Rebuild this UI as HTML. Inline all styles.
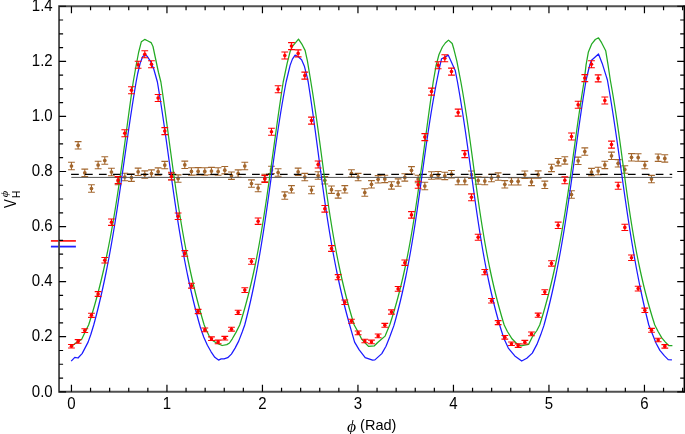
<!DOCTYPE html><html><head><meta charset="utf-8"><title>plot</title><style>html,body{margin:0;padding:0;background:#fff}svg{display:block}text{font-family:"Liberation Sans",Arial,sans-serif;fill:#000}.s{font-family:"Liberation Serif","Times New Roman",serif;font-style:italic}</style></head><body>
<svg width="685" height="434" viewBox="0 0 685 434">
<rect width="685" height="434" fill="#fff"/>
<path d="M68.05 162.30h6.8M68.05 169.70h6.8M71.45 162.30v7.40M74.72 141.60h6.8M74.72 149.00h6.8M78.12 141.60v7.40M81.38 169.10h6.8M81.38 176.50h6.8M84.78 169.10v7.40M88.05 184.80h6.8M88.05 192.20h6.8M91.45 184.80v7.40M94.72 161.30h6.8M94.72 168.70h6.8M98.12 161.30v7.40M101.39 156.80h6.8M101.39 164.20h6.8M104.79 156.80v7.40M108.05 168.30h6.8M108.05 175.70h6.8M111.45 168.30v7.40M114.72 177.30h6.8M114.72 184.70h6.8M118.12 177.30v7.40M121.39 173.30h6.8M121.39 180.70h6.8M124.79 173.30v7.40M128.05 174.00h6.8M128.05 181.40h6.8M131.45 174.00v7.40M134.72 168.10h6.8M134.72 175.50h6.8M138.12 168.10v7.40M141.39 170.90h6.8M141.39 178.30h6.8M144.79 170.90v7.40M148.06 169.90h6.8M148.06 177.30h6.8M151.46 169.90v7.40M154.72 167.90h6.8M154.72 175.30h6.8M158.12 167.90v7.40M161.39 161.40h6.8M161.39 168.80h6.8M164.79 161.40v7.40M168.06 172.30h6.8M168.06 179.70h6.8M171.46 172.30v7.40M174.72 174.90h6.8M174.72 182.30h6.8M178.12 174.90v7.40M181.39 161.10h6.8M181.39 168.50h6.8M184.79 161.10v7.40M188.06 167.70h6.8M188.06 175.10h6.8M191.46 167.70v7.40M194.73 167.60h6.8M194.73 175.00h6.8M198.13 167.60v7.40M201.39 167.70h6.8M201.39 175.10h6.8M204.79 167.70v7.40M208.06 167.40h6.8M208.06 174.80h6.8M211.46 167.40v7.40M214.73 167.80h6.8M214.73 175.20h6.8M218.13 167.80v7.40M221.39 166.50h6.8M221.39 173.90h6.8M224.79 166.50v7.40M228.06 172.00h6.8M228.06 179.40h6.8M231.46 172.00v7.40M234.73 169.90h6.8M234.73 177.30h6.8M238.13 169.90v7.40M241.40 162.30h6.8M241.40 169.70h6.8M244.80 162.30v7.40M248.06 179.90h6.8M248.06 187.30h6.8M251.46 179.90v7.40M254.73 184.30h6.8M254.73 191.70h6.8M258.13 184.30v7.40M261.40 174.30h6.8M261.40 181.70h6.8M264.80 174.30v7.40M268.06 166.20h6.8M268.06 173.60h6.8M271.46 166.20v7.40M274.73 168.80h6.8M274.73 176.20h6.8M278.13 168.80v7.40M281.40 191.90h6.8M281.40 199.30h6.8M284.80 191.90v7.40M288.07 185.60h6.8M288.07 193.00h6.8M291.47 185.60v7.40M294.73 168.10h6.8M294.73 175.50h6.8M298.13 168.10v7.40M301.40 173.40h6.8M301.40 180.80h6.8M304.80 173.40v7.40M308.07 186.30h6.8M308.07 193.70h6.8M311.47 186.30v7.40M314.73 171.80h6.8M314.73 179.20h6.8M318.13 171.80v7.40M321.40 176.60h6.8M321.40 184.00h6.8M324.80 176.60v7.40M328.07 186.00h6.8M328.07 193.40h6.8M331.47 186.00v7.40M334.74 190.70h6.8M334.74 198.10h6.8M338.14 190.70v7.40M341.40 185.60h6.8M341.40 193.00h6.8M344.80 185.60v7.40M348.07 169.70h6.8M348.07 177.10h6.8M351.47 169.70v7.40M354.74 173.40h6.8M354.74 180.80h6.8M358.14 173.40v7.40M361.40 188.80h6.8M361.40 196.20h6.8M364.80 188.80v7.40M368.07 180.60h6.8M368.07 188.00h6.8M371.47 180.60v7.40M374.74 175.60h6.8M374.74 183.00h6.8M378.14 175.60v7.40M381.41 175.20h6.8M381.41 182.60h6.8M384.81 175.20v7.40M388.07 181.70h6.8M388.07 189.10h6.8M391.47 181.70v7.40M394.74 178.90h6.8M394.74 186.30h6.8M398.14 178.90v7.40M401.41 173.70h6.8M401.41 181.10h6.8M404.81 173.70v7.40M408.08 166.60h6.8M408.08 174.00h6.8M411.48 166.60v7.40M414.74 175.30h6.8M414.74 182.70h6.8M418.14 175.30v7.40M421.41 182.30h6.8M421.41 189.70h6.8M424.81 182.30v7.40M428.08 171.80h6.8M428.08 179.20h6.8M431.48 171.80v7.40M434.74 171.50h6.8M434.74 178.90h6.8M438.14 171.50v7.40M441.41 172.20h6.8M441.41 179.60h6.8M444.81 172.20v7.40M448.08 170.50h6.8M448.08 177.90h6.8M451.48 170.50v7.40M454.75 177.30h6.8M454.75 184.70h6.8M458.15 177.30v7.40M461.41 177.30h6.8M461.41 184.70h6.8M464.81 177.30v7.40M468.08 171.00h6.8M468.08 178.40h6.8M471.48 171.00v7.40M474.75 176.80h6.8M474.75 184.20h6.8M478.15 176.80v7.40M481.41 177.40h6.8M481.41 184.80h6.8M484.81 177.40v7.40M488.08 174.40h6.8M488.08 181.80h6.8M491.48 174.40v7.40M494.75 172.90h6.8M494.75 180.30h6.8M498.15 172.90v7.40M501.42 180.60h6.8M501.42 188.00h6.8M504.82 180.60v7.40M508.08 177.60h6.8M508.08 185.00h6.8M511.48 177.60v7.40M514.75 177.60h6.8M514.75 185.00h6.8M518.15 177.60v7.40M521.42 171.00h6.8M521.42 178.40h6.8M524.82 171.00v7.40M528.08 178.20h6.8M528.08 185.60h6.8M531.48 178.20v7.40M534.75 170.90h6.8M534.75 178.30h6.8M538.15 170.90v7.40M541.42 181.10h6.8M541.42 188.50h6.8M544.82 181.10v7.40M548.09 164.20h6.8M548.09 171.60h6.8M551.49 164.20v7.40M554.75 158.50h6.8M554.75 165.90h6.8M558.15 158.50v7.40M561.42 156.70h6.8M561.42 164.10h6.8M564.82 156.70v7.40M568.09 190.80h6.8M568.09 198.20h6.8M571.49 190.80v7.40M574.75 157.10h6.8M574.75 164.50h6.8M578.15 157.10v7.40M581.42 147.90h6.8M581.42 155.30h6.8M584.82 147.90v7.40M588.09 168.40h6.8M588.09 175.80h6.8M591.49 168.40v7.40M594.76 167.30h6.8M594.76 174.70h6.8M598.16 167.30v7.40M601.42 161.20h6.8M601.42 168.60h6.8M604.82 161.20v7.40M608.09 152.10h6.8M608.09 159.50h6.8M611.49 152.10v7.40M614.76 159.60h6.8M614.76 167.00h6.8M618.16 159.60v7.40M621.42 165.80h6.8M621.42 173.20h6.8M624.82 165.80v7.40M628.09 153.60h6.8M628.09 161.00h6.8M631.49 153.60v7.40M634.76 153.80h6.8M634.76 161.20h6.8M638.16 153.80v7.40M641.43 161.40h6.8M641.43 168.80h6.8M644.83 161.40v7.40M648.09 175.40h6.8M648.09 182.80h6.8M651.49 175.40v7.40M654.76 154.00h6.8M654.76 161.40h6.8M658.16 154.00v7.40M661.43 154.70h6.8M661.43 162.10h6.8M664.83 154.70v7.40" stroke="#a3662c" stroke-width="1.1" fill="none"/>
<g fill="#a3662c"><circle cx="71.45" cy="166.00" r="1.85"/><circle cx="78.12" cy="145.30" r="1.85"/><circle cx="84.78" cy="172.80" r="1.85"/><circle cx="91.45" cy="188.50" r="1.85"/><circle cx="98.12" cy="165.00" r="1.85"/><circle cx="104.79" cy="160.50" r="1.85"/><circle cx="111.45" cy="172.00" r="1.85"/><circle cx="118.12" cy="181.00" r="1.85"/><circle cx="124.79" cy="177.00" r="1.85"/><circle cx="131.45" cy="177.70" r="1.85"/><circle cx="138.12" cy="171.80" r="1.85"/><circle cx="144.79" cy="174.60" r="1.85"/><circle cx="151.46" cy="173.60" r="1.85"/><circle cx="158.12" cy="171.60" r="1.85"/><circle cx="164.79" cy="165.10" r="1.85"/><circle cx="171.46" cy="176.00" r="1.85"/><circle cx="178.12" cy="178.60" r="1.85"/><circle cx="184.79" cy="164.80" r="1.85"/><circle cx="191.46" cy="171.40" r="1.85"/><circle cx="198.13" cy="171.30" r="1.85"/><circle cx="204.79" cy="171.40" r="1.85"/><circle cx="211.46" cy="171.10" r="1.85"/><circle cx="218.13" cy="171.50" r="1.85"/><circle cx="224.79" cy="170.20" r="1.85"/><circle cx="231.46" cy="175.70" r="1.85"/><circle cx="238.13" cy="173.60" r="1.85"/><circle cx="244.80" cy="166.00" r="1.85"/><circle cx="251.46" cy="183.60" r="1.85"/><circle cx="258.13" cy="188.00" r="1.85"/><circle cx="264.80" cy="178.00" r="1.85"/><circle cx="271.46" cy="169.90" r="1.85"/><circle cx="278.13" cy="172.50" r="1.85"/><circle cx="284.80" cy="195.60" r="1.85"/><circle cx="291.47" cy="189.30" r="1.85"/><circle cx="298.13" cy="171.80" r="1.85"/><circle cx="304.80" cy="177.10" r="1.85"/><circle cx="311.47" cy="190.00" r="1.85"/><circle cx="318.13" cy="175.50" r="1.85"/><circle cx="324.80" cy="180.30" r="1.85"/><circle cx="331.47" cy="189.70" r="1.85"/><circle cx="338.14" cy="194.40" r="1.85"/><circle cx="344.80" cy="189.30" r="1.85"/><circle cx="351.47" cy="173.40" r="1.85"/><circle cx="358.14" cy="177.10" r="1.85"/><circle cx="364.80" cy="192.50" r="1.85"/><circle cx="371.47" cy="184.30" r="1.85"/><circle cx="378.14" cy="179.30" r="1.85"/><circle cx="384.81" cy="178.90" r="1.85"/><circle cx="391.47" cy="185.40" r="1.85"/><circle cx="398.14" cy="182.60" r="1.85"/><circle cx="404.81" cy="177.40" r="1.85"/><circle cx="411.48" cy="170.30" r="1.85"/><circle cx="418.14" cy="179.00" r="1.85"/><circle cx="424.81" cy="186.00" r="1.85"/><circle cx="431.48" cy="175.50" r="1.85"/><circle cx="438.14" cy="175.20" r="1.85"/><circle cx="444.81" cy="175.90" r="1.85"/><circle cx="451.48" cy="174.20" r="1.85"/><circle cx="458.15" cy="181.00" r="1.85"/><circle cx="464.81" cy="181.00" r="1.85"/><circle cx="471.48" cy="174.70" r="1.85"/><circle cx="478.15" cy="180.50" r="1.85"/><circle cx="484.81" cy="181.10" r="1.85"/><circle cx="491.48" cy="178.10" r="1.85"/><circle cx="498.15" cy="176.60" r="1.85"/><circle cx="504.82" cy="184.30" r="1.85"/><circle cx="511.48" cy="181.30" r="1.85"/><circle cx="518.15" cy="181.30" r="1.85"/><circle cx="524.82" cy="174.70" r="1.85"/><circle cx="531.48" cy="181.90" r="1.85"/><circle cx="538.15" cy="174.60" r="1.85"/><circle cx="544.82" cy="184.80" r="1.85"/><circle cx="551.49" cy="167.90" r="1.85"/><circle cx="558.15" cy="162.20" r="1.85"/><circle cx="564.82" cy="160.40" r="1.85"/><circle cx="571.49" cy="194.50" r="1.85"/><circle cx="578.15" cy="160.80" r="1.85"/><circle cx="584.82" cy="151.60" r="1.85"/><circle cx="591.49" cy="172.10" r="1.85"/><circle cx="598.16" cy="171.00" r="1.85"/><circle cx="604.82" cy="164.90" r="1.85"/><circle cx="611.49" cy="155.80" r="1.85"/><circle cx="618.16" cy="163.30" r="1.85"/><circle cx="624.82" cy="169.50" r="1.85"/><circle cx="631.49" cy="157.30" r="1.85"/><circle cx="638.16" cy="157.50" r="1.85"/><circle cx="644.83" cy="165.10" r="1.85"/><circle cx="651.49" cy="179.10" r="1.85"/><circle cx="658.16" cy="157.70" r="1.85"/><circle cx="664.83" cy="158.40" r="1.85"/></g>
<line x1="71.3" y1="177.4" x2="672.2" y2="177.4" stroke="#555" stroke-width="1"/>
<line x1="71.1" y1="174.4" x2="672.2" y2="174.4" stroke="#000" stroke-width="1.2" stroke-dasharray="7.7 6.22"/>
<polyline points="71.20,361.20 74.80,357.30 78.00,358.00 82.10,353.60 88.10,342.10 90.90,334.20 93.70,325.00 94.79,321.00 95.84,317.00 96.86,313.00 97.87,309.00 98.85,305.00 99.81,301.00 100.75,297.00 101.66,293.00 102.56,289.00 103.43,285.00 104.29,281.00 105.13,277.00 105.95,273.00 106.76,269.00 107.54,265.00 108.31,261.00 109.07,257.00 109.81,253.00 110.54,249.00 111.25,245.00 111.95,241.00 112.64,237.00 113.31,233.00 113.98,229.00 114.63,225.00 115.28,221.00 115.91,217.00 116.54,213.00 117.16,209.00 117.77,205.00 118.37,201.00 118.97,197.00 119.56,193.00 120.15,189.00 120.73,185.00 121.31,181.00 121.88,177.00 122.45,173.00 123.02,169.00 123.59,165.00 124.16,161.00 124.73,157.00 125.30,153.00 125.87,149.00 126.44,145.00 127.01,141.00 127.59,137.00 128.17,133.00 128.75,129.00 129.34,125.00 129.93,121.00 130.53,117.00 131.14,113.00 131.75,109.00 132.37,105.00 133.00,101.00 133.64,97.00 134.28,93.00 134.94,89.00 135.61,85.00 136.10,82.00 137.70,73.50 140.20,63.10 142.60,56.80 145.00,54.60 147.40,56.60 150.60,61.50 153.90,69.50 157.40,82.00 157.90,85.00 158.56,89.00 159.22,93.00 159.86,97.00 160.49,101.00 161.11,105.00 161.72,109.00 162.33,113.00 162.92,117.00 163.51,121.00 164.10,125.00 164.67,129.00 165.24,133.00 165.81,137.00 166.37,141.00 166.93,145.00 167.49,149.00 168.04,153.00 168.59,157.00 169.15,161.00 169.70,165.00 170.25,169.00 170.81,173.00 171.37,177.00 171.93,181.00 172.49,185.00 173.06,189.00 173.63,193.00 174.21,197.00 174.79,201.00 175.39,205.00 175.99,209.00 176.59,213.00 177.21,217.00 177.84,221.00 178.47,225.00 179.12,229.00 179.78,233.00 180.45,237.00 181.13,241.00 181.83,245.00 182.54,249.00 183.27,253.00 184.01,257.00 184.77,261.00 185.55,265.00 186.34,269.00 187.15,273.00 187.99,277.00 188.84,281.00 189.71,285.00 190.60,289.00 191.52,293.00 192.45,297.00 193.41,301.00 194.40,305.00 195.41,309.00 196.44,313.00 197.50,317.00 198.58,321.00 199.70,325.00 200.50,327.80 203.70,337.00 207.40,345.30 211.10,351.80 214.80,357.30 218.50,360.10 221.20,358.90 224.00,358.90 227.70,357.70 231.40,354.10 235.10,348.10 238.70,341.10 242.40,331.50 244.70,325.00 245.74,321.00 246.75,317.00 247.74,313.00 248.70,309.00 249.64,305.00 250.55,301.00 251.44,297.00 252.31,293.00 253.16,289.00 253.99,285.00 254.79,281.00 255.58,277.00 256.35,273.00 257.11,269.00 257.84,265.00 258.56,261.00 259.26,257.00 259.95,253.00 260.63,249.00 261.29,245.00 261.94,241.00 262.58,237.00 263.21,233.00 263.83,229.00 264.43,225.00 265.03,221.00 265.62,217.00 266.21,213.00 266.78,209.00 267.36,205.00 267.92,201.00 268.49,197.00 269.04,193.00 269.60,189.00 270.16,185.00 270.71,181.00 271.26,177.00 271.81,173.00 272.37,169.00 272.92,165.00 273.48,161.00 274.04,157.00 274.61,153.00 275.18,149.00 275.75,145.00 276.33,141.00 276.92,137.00 277.52,133.00 278.12,129.00 278.73,125.00 279.36,121.00 279.99,117.00 280.63,113.00 281.29,109.00 281.96,105.00 282.65,101.00 283.34,97.00 284.06,93.00 284.78,89.00 285.53,85.00 286.10,82.00 290.10,65.40 292.40,59.10 295.10,55.10 298.20,56.80 301.60,59.70 304.50,66.60 307.40,78.10 308.20,82.00 308.66,85.00 309.28,89.00 309.89,93.00 310.49,97.00 311.08,101.00 311.66,105.00 312.24,109.00 312.80,113.00 313.36,117.00 313.92,121.00 314.46,125.00 315.01,129.00 315.55,133.00 316.08,137.00 316.62,141.00 317.15,145.00 317.68,149.00 318.21,153.00 318.74,157.00 319.27,161.00 319.80,165.00 320.34,169.00 320.87,173.00 321.41,177.00 321.96,181.00 322.50,185.00 323.06,189.00 323.62,193.00 324.18,197.00 324.76,201.00 325.34,205.00 325.93,209.00 326.53,213.00 327.13,217.00 327.75,221.00 328.38,225.00 329.03,229.00 329.68,233.00 330.35,237.00 331.03,241.00 331.73,245.00 332.44,249.00 333.16,253.00 333.91,257.00 334.67,261.00 335.44,265.00 336.24,269.00 337.06,273.00 337.89,277.00 338.75,281.00 339.62,285.00 340.52,289.00 341.44,293.00 342.39,297.00 343.35,301.00 344.35,305.00 345.36,309.00 346.40,313.00 347.47,317.00 348.57,321.00 349.69,325.00 350.50,327.80 354.60,342.10 359.20,349.90 365.20,357.70 372.60,360.20 374.90,359.90 381.80,353.60 386.00,346.20 389.70,337.00 393.80,325.90 395.18,321.00 396.27,317.00 397.34,313.00 398.37,309.00 399.38,305.00 400.36,301.00 401.31,297.00 402.24,293.00 403.14,289.00 404.02,285.00 404.87,281.00 405.71,277.00 406.52,273.00 407.31,269.00 408.08,265.00 408.84,261.00 409.57,257.00 410.29,253.00 410.99,249.00 411.68,245.00 412.35,241.00 413.01,237.00 413.65,233.00 414.29,229.00 414.91,225.00 415.52,221.00 416.12,217.00 416.71,213.00 417.30,209.00 417.87,205.00 418.44,201.00 419.01,197.00 419.57,193.00 420.13,189.00 420.68,185.00 421.23,181.00 421.78,177.00 422.34,173.00 422.89,169.00 423.44,165.00 423.99,161.00 424.55,157.00 425.11,153.00 425.67,149.00 426.24,145.00 426.82,141.00 427.41,137.00 428.00,133.00 428.60,129.00 429.21,125.00 429.83,121.00 430.46,117.00 431.10,113.00 431.76,109.00 432.43,105.00 433.12,101.00 433.82,97.00 434.53,93.00 435.27,89.00 436.02,85.00 436.60,82.00 439.50,67.70 441.60,58.70 444.10,57.60 448.20,55.10 451.60,62.40 455.20,70.40 457.50,82.00 458.02,85.00 458.72,89.00 459.40,93.00 460.07,97.00 460.73,101.00 461.38,105.00 462.01,109.00 462.64,113.00 463.26,117.00 463.86,121.00 464.46,125.00 465.06,129.00 465.64,133.00 466.22,137.00 466.79,141.00 467.36,145.00 467.92,149.00 468.48,153.00 469.04,157.00 469.60,161.00 470.15,165.00 470.70,169.00 471.25,173.00 471.80,177.00 472.36,181.00 472.91,185.00 473.47,189.00 474.02,193.00 474.59,197.00 475.15,201.00 475.72,205.00 476.30,209.00 476.88,213.00 477.47,217.00 478.07,221.00 478.68,225.00 479.30,229.00 479.93,233.00 480.57,237.00 481.22,241.00 481.89,245.00 482.57,249.00 483.27,253.00 483.99,257.00 484.72,261.00 485.47,265.00 486.24,269.00 487.04,273.00 487.85,277.00 488.69,281.00 489.55,285.00 490.43,289.00 491.34,293.00 492.28,297.00 493.25,301.00 494.24,305.00 495.26,309.00 496.32,313.00 497.40,317.00 498.52,321.00 499.67,325.00 500.50,327.80 503.70,337.90 508.30,348.10 514.80,355.90 521.70,361.00 526.80,358.20 532.30,353.10 536.90,344.40 540.60,335.10 543.80,325.90 544.60,323.00 545.67,319.00 546.71,315.00 547.74,311.00 548.73,307.00 549.71,303.00 550.66,299.00 551.59,295.00 552.50,291.00 553.38,287.00 554.25,283.00 555.09,279.00 555.92,275.00 556.73,271.00 557.52,267.00 558.30,263.00 559.05,259.00 559.79,255.00 560.52,251.00 561.23,247.00 561.93,243.00 562.61,239.00 563.29,235.00 563.95,231.00 564.59,227.00 565.23,223.00 565.86,219.00 566.48,215.00 567.08,211.00 567.68,207.00 568.28,203.00 568.86,199.00 569.44,195.00 570.01,191.00 570.58,187.00 571.14,183.00 571.70,179.00 572.26,175.00 572.81,171.00 573.37,167.00 573.92,163.00 574.47,159.00 575.02,155.00 575.57,151.00 576.12,147.00 576.67,143.00 577.22,139.00 577.78,135.00 578.34,131.00 578.91,127.00 579.48,123.00 580.06,119.00 580.64,115.00 581.23,111.00 581.83,107.00 582.43,103.00 583.05,99.00 583.67,95.00 584.31,91.00 584.95,87.00 585.61,83.00 586.10,80.00 589.00,68.00 591.30,60.50 598.50,54.00 602.20,63.40 606.20,76.10 607.40,80.00 607.93,83.00 608.62,87.00 609.31,91.00 609.98,95.00 610.64,99.00 611.29,103.00 611.93,107.00 612.56,111.00 613.18,115.00 613.79,119.00 614.39,123.00 614.99,127.00 615.58,131.00 616.17,135.00 616.75,139.00 617.32,143.00 617.89,147.00 618.46,151.00 619.03,155.00 619.59,159.00 620.15,163.00 620.71,167.00 621.27,171.00 621.83,175.00 622.39,179.00 622.95,183.00 623.52,187.00 624.09,191.00 624.66,195.00 625.23,199.00 625.81,203.00 626.39,207.00 626.98,211.00 627.58,215.00 628.18,219.00 628.79,223.00 629.41,227.00 630.04,231.00 630.68,235.00 631.32,239.00 631.98,243.00 632.65,247.00 633.33,251.00 634.02,255.00 634.73,259.00 635.45,263.00 636.18,267.00 636.93,271.00 637.70,275.00 638.48,279.00 639.27,283.00 640.09,287.00 640.92,291.00 641.77,295.00 642.64,299.00 643.53,303.00 644.44,307.00 645.37,311.00 646.32,315.00 647.30,319.00 648.29,323.00 648.80,325.00 652.50,334.20 656.20,343.50 659.90,350.40 664.50,355.90 668.20,359.60 671.90,359.90" fill="none" stroke="#1a1aff" stroke-width="1.25" stroke-linejoin="round"/>
<polyline points="71.20,346.40 75.20,343.50 78.00,341.60 81.70,339.30 84.90,332.40 88.60,325.00 89.89,321.00 91.13,317.00 92.34,313.00 93.52,309.00 94.67,305.00 95.79,301.00 96.89,297.00 97.95,293.00 98.99,289.00 100.00,285.00 100.99,281.00 101.95,277.00 102.89,273.00 103.81,269.00 104.70,265.00 105.57,261.00 106.42,257.00 107.25,253.00 108.06,249.00 108.85,245.00 109.62,241.00 110.38,237.00 111.12,233.00 111.84,229.00 112.55,225.00 113.24,221.00 113.92,217.00 114.59,213.00 115.24,209.00 115.88,205.00 116.52,201.00 117.14,197.00 117.75,193.00 118.35,189.00 118.95,185.00 119.53,181.00 120.11,177.00 120.68,173.00 121.25,169.00 121.81,165.00 122.37,161.00 122.92,157.00 123.47,153.00 124.01,149.00 124.55,145.00 125.09,141.00 125.63,137.00 126.17,133.00 126.71,129.00 127.25,125.00 127.78,121.00 128.33,117.00 128.87,113.00 129.41,109.00 129.96,105.00 130.52,101.00 131.07,97.00 131.64,93.00 132.21,89.00 132.78,85.00 133.20,82.00 136.40,64.00 138.60,52.50 141.30,41.80 144.70,39.40 148.00,41.00 151.10,42.60 153.00,46.50 155.30,57.50 158.50,72.50 160.90,82.00 161.35,85.00 161.95,89.00 162.54,93.00 163.12,97.00 163.69,101.00 164.26,105.00 164.82,109.00 165.37,113.00 165.93,117.00 166.47,121.00 167.02,125.00 167.56,129.00 168.10,133.00 168.64,137.00 169.18,141.00 169.72,145.00 170.26,149.00 170.80,153.00 171.35,157.00 171.89,161.00 172.44,165.00 173.00,169.00 173.55,173.00 174.12,177.00 174.68,181.00 175.26,185.00 175.84,189.00 176.43,193.00 177.03,197.00 177.63,201.00 178.25,205.00 178.87,209.00 179.51,213.00 180.16,217.00 180.82,221.00 181.49,225.00 182.17,229.00 182.87,233.00 183.59,237.00 184.31,241.00 185.06,245.00 185.82,249.00 186.60,253.00 187.39,257.00 188.21,261.00 189.04,265.00 189.89,269.00 190.76,273.00 191.65,277.00 192.57,281.00 193.50,285.00 194.46,289.00 195.44,293.00 196.45,297.00 197.48,301.00 198.53,305.00 199.61,309.00 200.72,313.00 201.85,317.00 203.01,321.00 204.20,325.00 206.50,330.50 209.20,336.10 212.90,340.70 217.50,343.50 222.10,345.50 226.80,344.60 229.50,343.00 232.30,338.80 236.00,332.40 239.70,325.00 240.97,321.00 242.19,317.00 243.37,313.00 244.52,309.00 245.64,305.00 246.72,301.00 247.77,297.00 248.80,293.00 249.79,289.00 250.75,285.00 251.69,281.00 252.60,277.00 253.49,273.00 254.35,269.00 255.18,265.00 256.00,261.00 256.79,257.00 257.56,253.00 258.32,249.00 259.05,245.00 259.77,241.00 260.47,237.00 261.16,233.00 261.83,229.00 262.49,225.00 263.13,221.00 263.77,217.00 264.39,213.00 265.00,209.00 265.61,205.00 266.21,201.00 266.80,197.00 267.38,193.00 267.96,189.00 268.54,185.00 269.11,181.00 269.67,177.00 270.23,173.00 270.79,169.00 271.35,165.00 271.90,161.00 272.45,157.00 273.00,153.00 273.55,149.00 274.11,145.00 274.66,141.00 275.21,137.00 275.76,133.00 276.32,129.00 276.88,125.00 277.44,121.00 278.01,117.00 278.58,113.00 279.16,109.00 279.74,105.00 280.33,101.00 280.92,97.00 281.52,93.00 282.13,89.00 282.75,85.00 283.20,82.00 287.20,63.10 290.10,51.60 292.40,46.40 295.40,42.80 298.50,39.10 302.20,44.70 305.10,50.40 307.40,60.80 310.90,82.00 311.38,85.00 312.03,89.00 312.67,93.00 313.29,97.00 313.91,101.00 314.51,105.00 315.10,109.00 315.68,113.00 316.26,117.00 316.83,121.00 317.39,125.00 317.94,129.00 318.49,133.00 319.04,137.00 319.58,141.00 320.12,145.00 320.65,149.00 321.19,153.00 321.72,157.00 322.26,161.00 322.79,165.00 323.33,169.00 323.87,173.00 324.42,177.00 324.96,181.00 325.52,185.00 326.08,189.00 326.64,193.00 327.22,197.00 327.80,201.00 328.39,205.00 328.99,209.00 329.60,213.00 330.22,217.00 330.86,221.00 331.50,225.00 332.16,229.00 332.84,233.00 333.53,237.00 334.24,241.00 334.96,245.00 335.70,249.00 336.46,253.00 337.24,257.00 338.04,261.00 338.86,265.00 339.70,269.00 340.57,273.00 341.45,277.00 342.36,281.00 343.30,285.00 344.26,289.00 345.25,293.00 346.26,297.00 347.30,301.00 348.37,305.00 349.47,309.00 350.61,313.00 351.77,317.00 352.96,321.00 354.20,325.00 358.30,332.40 361.50,338.80 365.00,342.80 368.50,346.40 374.40,345.80 377.70,342.50 381.40,339.30 385.10,336.10 387.80,329.60 389.70,325.00 391.01,321.00 392.28,317.00 393.50,313.00 394.69,309.00 395.84,305.00 396.96,301.00 398.04,297.00 399.09,293.00 400.11,289.00 401.10,285.00 402.06,281.00 402.99,277.00 403.89,273.00 404.77,269.00 405.62,265.00 406.45,261.00 407.26,257.00 408.04,253.00 408.81,249.00 409.55,245.00 410.27,241.00 410.98,237.00 411.67,233.00 412.35,229.00 413.01,225.00 413.66,221.00 414.29,217.00 414.92,213.00 415.53,209.00 416.14,205.00 416.74,201.00 417.33,197.00 417.91,193.00 418.49,189.00 419.06,185.00 419.63,181.00 420.19,177.00 420.75,173.00 421.30,169.00 421.85,165.00 422.39,161.00 422.94,157.00 423.48,153.00 424.02,149.00 424.55,145.00 425.09,141.00 425.63,137.00 426.16,133.00 426.70,129.00 427.24,125.00 427.78,121.00 428.32,117.00 428.87,113.00 429.41,109.00 429.96,105.00 430.52,101.00 431.08,97.00 431.64,93.00 432.21,89.00 432.78,85.00 433.20,82.00 436.10,65.40 439.00,54.50 442.40,47.00 445.30,43.00 448.50,40.10 452.20,43.50 453.90,49.30 456.80,60.80 460.90,82.00 461.43,85.00 462.14,89.00 462.83,93.00 463.50,97.00 464.16,101.00 464.80,105.00 465.43,109.00 466.05,113.00 466.66,117.00 467.26,121.00 467.85,125.00 468.42,129.00 468.99,133.00 469.56,137.00 470.12,141.00 470.67,145.00 471.22,149.00 471.76,153.00 472.30,157.00 472.84,161.00 473.38,165.00 473.92,169.00 474.46,173.00 475.00,177.00 475.55,181.00 476.09,185.00 476.64,189.00 477.20,193.00 477.76,197.00 478.33,201.00 478.91,205.00 479.50,209.00 480.09,213.00 480.70,217.00 481.32,221.00 481.95,225.00 482.59,229.00 483.25,233.00 483.92,237.00 484.61,241.00 485.31,245.00 486.03,249.00 486.77,253.00 487.53,257.00 488.31,261.00 489.11,265.00 489.93,269.00 490.77,273.00 491.64,277.00 492.53,281.00 493.45,285.00 494.39,289.00 495.36,293.00 496.36,297.00 497.39,301.00 498.44,305.00 499.53,309.00 500.65,313.00 501.80,317.00 502.98,321.00 504.20,325.00 507.40,331.50 512.00,338.80 516.60,343.50 520.80,345.80 524.70,345.10 528.60,344.40 532.30,337.00 536.90,330.50 539.70,325.00 540.34,323.00 541.57,319.00 542.77,315.00 543.94,311.00 545.08,307.00 546.18,303.00 547.26,299.00 548.32,295.00 549.34,291.00 550.34,287.00 551.31,283.00 552.26,279.00 553.18,275.00 554.08,271.00 554.95,267.00 555.81,263.00 556.64,259.00 557.45,255.00 558.25,251.00 559.02,247.00 559.78,243.00 560.51,239.00 561.23,235.00 561.94,231.00 562.63,227.00 563.31,223.00 563.97,219.00 564.62,215.00 565.26,211.00 565.88,207.00 566.50,203.00 567.10,199.00 567.70,195.00 568.29,191.00 568.87,187.00 569.44,183.00 570.01,179.00 570.57,175.00 571.13,171.00 571.68,167.00 572.24,163.00 572.78,159.00 573.33,155.00 573.88,151.00 574.43,147.00 574.97,143.00 575.52,139.00 576.08,135.00 576.63,131.00 577.19,127.00 577.75,123.00 578.32,119.00 578.90,115.00 579.48,111.00 580.07,107.00 580.67,103.00 581.27,99.00 581.89,95.00 582.52,91.00 583.16,87.00 583.81,83.00 584.30,80.00 586.10,64.60 588.40,51.90 591.80,43.80 595.30,39.50 598.50,37.80 601.60,42.70 605.70,50.70 608.00,64.60 610.30,80.00 610.84,83.00 611.55,87.00 612.25,91.00 612.93,95.00 613.60,99.00 614.25,103.00 614.88,107.00 615.50,111.00 616.11,115.00 616.71,119.00 617.30,123.00 617.88,127.00 618.45,131.00 619.02,135.00 619.57,139.00 620.12,143.00 620.67,147.00 621.21,151.00 621.75,155.00 622.29,159.00 622.82,163.00 623.36,167.00 623.90,171.00 624.44,175.00 624.98,179.00 625.52,183.00 626.07,187.00 626.63,191.00 627.19,195.00 627.76,199.00 628.34,203.00 628.92,207.00 629.52,211.00 630.13,215.00 630.75,219.00 631.38,223.00 632.03,227.00 632.69,231.00 633.37,235.00 634.06,239.00 634.77,243.00 635.50,247.00 636.25,251.00 637.02,255.00 637.82,259.00 638.63,263.00 639.47,267.00 640.33,271.00 641.22,275.00 642.13,279.00 643.07,283.00 644.03,287.00 645.03,291.00 646.06,295.00 647.11,299.00 648.20,303.00 649.32,307.00 650.48,311.00 651.66,315.00 652.89,319.00 654.15,323.00 654.80,325.00 658.10,331.50 661.80,337.90 665.40,342.10 668.70,345.50 672.40,345.50" fill="none" stroke="#22aa22" stroke-width="1.25" stroke-linejoin="round"/>
<path d="M68.05 344.47h6.8M68.05 347.93h6.8M71.45 344.47v3.46M74.72 339.61h6.8M74.72 343.19h6.8M78.12 339.61v3.57M81.38 328.69h6.8M81.38 332.51h6.8M84.78 328.69v3.82M88.05 313.21h6.8M88.05 317.39h6.8M91.45 313.21v4.18M94.72 291.66h6.8M94.72 296.34h6.8M98.12 291.66v4.67M101.39 257.57h6.8M101.39 263.03h6.8M104.79 257.57v5.46M108.05 219.03h6.8M108.05 225.37h6.8M111.45 219.03v6.34M114.72 176.60h6.8M114.72 183.60h6.8M118.12 176.60v7.00M121.39 129.80h6.8M121.39 136.80h6.8M124.79 129.80v7.00M128.05 86.70h6.8M128.05 93.70h6.8M131.45 86.70v7.00M134.72 61.20h6.8M134.72 68.20h6.8M138.12 61.20v7.00M141.39 50.80h6.8M141.39 57.80h6.8M144.79 50.80v7.00M148.06 60.70h6.8M148.06 67.70h6.8M151.46 60.70v7.00M154.72 94.50h6.8M154.72 101.50h6.8M158.12 94.50v7.00M161.39 127.60h6.8M161.39 134.60h6.8M164.79 127.60v7.00M168.06 173.00h6.8M168.06 180.00h6.8M171.46 173.00v7.00M174.72 212.96h6.8M174.72 219.44h6.8M178.12 212.96v6.48M181.39 250.59h6.8M181.39 256.21h6.8M184.79 250.59v5.62M188.06 283.27h6.8M188.06 288.13h6.8M191.46 283.27v4.87M194.73 309.37h6.8M194.73 313.63h6.8M198.13 309.37v4.27M201.39 327.98h6.8M201.39 331.82h6.8M204.79 327.98v3.84M208.06 336.88h6.8M208.06 340.52h6.8M211.46 336.88v3.63M214.73 340.12h6.8M214.73 343.68h6.8M218.13 340.12v3.56M221.39 336.38h6.8M221.39 340.02h6.8M224.79 336.38v3.65M228.06 327.27h6.8M228.06 331.13h6.8M231.46 327.27v3.85M234.73 310.28h6.8M234.73 314.52h6.8M238.13 310.28v4.25M241.40 287.72h6.8M241.40 292.48h6.8M244.80 287.72v4.76M248.06 258.79h6.8M248.06 264.21h6.8M251.46 258.79v5.43M254.73 218.02h6.8M254.73 224.38h6.8M258.13 218.02v6.36M261.40 175.40h6.8M261.40 182.40h6.8M264.80 175.40v7.00M268.06 128.30h6.8M268.06 135.30h6.8M271.46 128.30v7.00M274.73 85.80h6.8M274.73 92.80h6.8M278.13 85.80v7.00M281.40 52.00h6.8M281.40 59.00h6.8M284.80 52.00v7.00M288.07 42.60h6.8M288.07 49.60h6.8M291.47 42.60v7.00M294.73 49.90h6.8M294.73 56.90h6.8M298.13 49.90v7.00M301.40 72.10h6.8M301.40 79.10h6.8M304.80 72.10v7.00M308.07 117.10h6.8M308.07 124.10h6.8M311.47 117.10v7.00M314.73 161.00h6.8M314.73 168.00h6.8M318.13 161.00v7.00M321.40 205.47h6.8M321.40 212.13h6.8M324.80 205.47v6.65M328.07 245.63h6.8M328.07 251.37h6.8M331.47 245.63v5.73M334.74 274.67h6.8M334.74 279.73h6.8M338.14 274.67v5.06M341.40 300.06h6.8M341.40 304.54h6.8M344.80 300.06v4.48M348.07 319.18h6.8M348.07 323.22h6.8M351.47 319.18v4.04M354.74 331.02h6.8M354.74 334.78h6.8M358.14 331.02v3.77M361.40 339.21h6.8M361.40 342.79h6.8M364.80 339.21v3.58M368.07 340.12h6.8M368.07 343.68h6.8M371.47 340.12v3.56M374.74 334.05h6.8M374.74 337.75h6.8M378.14 334.05v3.70M381.41 323.33h6.8M381.41 327.27h6.8M384.81 323.33v3.95M388.07 309.87h6.8M388.07 314.13h6.8M391.47 309.87v4.25M394.74 286.50h6.8M394.74 291.30h6.8M398.14 286.50v4.79M401.41 260.00h6.8M401.41 265.40h6.8M404.81 260.00v5.40M408.08 211.64h6.8M408.08 218.16h6.8M411.48 211.64v6.51M414.74 181.20h6.8M414.74 188.20h6.8M418.14 181.20v7.00M421.41 133.60h6.8M421.41 140.60h6.8M424.81 133.60v7.00M428.08 88.10h6.8M428.08 95.10h6.8M431.48 88.10v7.00M434.74 61.70h6.8M434.74 68.70h6.8M438.14 61.70v7.00M441.41 54.70h6.8M441.41 61.70h6.8M444.81 54.70v7.00M448.08 68.10h6.8M448.08 75.10h6.8M451.48 68.10v7.00M454.75 109.10h6.8M454.75 116.10h6.8M458.15 109.10v7.00M461.41 150.60h6.8M461.41 157.60h6.8M464.81 150.60v7.00M468.08 193.84h6.8M468.08 200.76h6.8M471.48 193.84v6.92M474.75 234.20h6.8M474.75 240.20h6.8M478.15 234.20v5.99M481.41 269.51h6.8M481.41 274.69h6.8M484.81 269.51v5.18M488.08 298.44h6.8M488.08 302.96h6.8M491.48 298.44v4.52M494.75 320.60h6.8M494.75 324.60h6.8M498.15 320.60v4.01M501.42 335.47h6.8M501.42 339.13h6.8M504.82 335.47v3.67M508.08 342.04h6.8M508.08 345.56h6.8M511.48 342.04v3.52M514.75 343.86h6.8M514.75 347.34h6.8M518.15 343.86v3.47M521.42 340.42h6.8M521.42 343.98h6.8M524.82 340.42v3.55M528.08 332.03h6.8M528.08 335.77h6.8M531.48 332.03v3.75M534.75 313.11h6.8M534.75 317.29h6.8M538.15 313.11v4.18M541.42 289.74h6.8M541.42 294.46h6.8M544.82 289.74v4.72M548.09 260.71h6.8M548.09 266.09h6.8M551.49 260.71v5.38M554.75 222.17h6.8M554.75 228.43h6.8M558.15 222.17v6.27M561.42 176.70h6.8M561.42 183.70h6.8M564.82 176.70v7.00M568.09 133.00h6.8M568.09 140.00h6.8M571.49 133.00v7.00M574.75 101.20h6.8M574.75 108.20h6.8M578.15 101.20v7.00M581.42 74.60h6.8M581.42 81.60h6.8M584.82 74.60v7.00M588.09 60.70h6.8M588.09 67.70h6.8M591.49 60.70v7.00M594.76 74.90h6.8M594.76 81.90h6.8M598.16 74.90v7.00M601.42 97.00h6.8M601.42 104.00h6.8M604.82 97.00v7.00M608.09 141.10h6.8M608.09 148.10h6.8M611.49 141.10v7.00M614.76 182.30h6.8M614.76 189.30h6.8M618.16 182.30v7.00M621.42 224.29h6.8M621.42 230.51h6.8M624.82 224.29v6.22M628.09 254.94h6.8M628.09 260.46h6.8M631.49 254.94v5.52M634.76 286.20h6.8M634.76 291.00h6.8M638.16 286.20v4.80M641.43 308.15h6.8M641.43 312.45h6.8M644.83 308.15v4.29M648.09 328.39h6.8M648.09 332.21h6.8M651.49 328.39v3.83M654.76 338.20h6.8M654.76 341.80h6.8M658.16 338.20v3.60M661.43 344.67h6.8M661.43 348.13h6.8M664.83 344.67v3.46" stroke="#ff0000" stroke-width="1.1" fill="none"/>
<g fill="#ff0000"><circle cx="71.45" cy="346.20" r="1.8"/><circle cx="78.12" cy="341.40" r="1.8"/><circle cx="84.78" cy="330.60" r="1.8"/><circle cx="91.45" cy="315.30" r="1.8"/><circle cx="98.12" cy="294.00" r="1.8"/><circle cx="104.79" cy="260.30" r="1.8"/><circle cx="111.45" cy="222.20" r="1.8"/><circle cx="118.12" cy="180.10" r="1.8"/><circle cx="124.79" cy="133.30" r="1.8"/><circle cx="131.45" cy="90.20" r="1.8"/><circle cx="138.12" cy="64.70" r="1.8"/><circle cx="144.79" cy="54.30" r="1.8"/><circle cx="151.46" cy="64.20" r="1.8"/><circle cx="158.12" cy="98.00" r="1.8"/><circle cx="164.79" cy="131.10" r="1.8"/><circle cx="171.46" cy="176.50" r="1.8"/><circle cx="178.12" cy="216.20" r="1.8"/><circle cx="184.79" cy="253.40" r="1.8"/><circle cx="191.46" cy="285.70" r="1.8"/><circle cx="198.13" cy="311.50" r="1.8"/><circle cx="204.79" cy="329.90" r="1.8"/><circle cx="211.46" cy="338.70" r="1.8"/><circle cx="218.13" cy="341.90" r="1.8"/><circle cx="224.79" cy="338.20" r="1.8"/><circle cx="231.46" cy="329.20" r="1.8"/><circle cx="238.13" cy="312.40" r="1.8"/><circle cx="244.80" cy="290.10" r="1.8"/><circle cx="251.46" cy="261.50" r="1.8"/><circle cx="258.13" cy="221.20" r="1.8"/><circle cx="264.80" cy="178.90" r="1.8"/><circle cx="271.46" cy="131.80" r="1.8"/><circle cx="278.13" cy="89.30" r="1.8"/><circle cx="284.80" cy="55.50" r="1.8"/><circle cx="291.47" cy="46.10" r="1.8"/><circle cx="298.13" cy="53.40" r="1.8"/><circle cx="304.80" cy="75.60" r="1.8"/><circle cx="311.47" cy="120.60" r="1.8"/><circle cx="318.13" cy="164.50" r="1.8"/><circle cx="324.80" cy="208.80" r="1.8"/><circle cx="331.47" cy="248.50" r="1.8"/><circle cx="338.14" cy="277.20" r="1.8"/><circle cx="344.80" cy="302.30" r="1.8"/><circle cx="351.47" cy="321.20" r="1.8"/><circle cx="358.14" cy="332.90" r="1.8"/><circle cx="364.80" cy="341.00" r="1.8"/><circle cx="371.47" cy="341.90" r="1.8"/><circle cx="378.14" cy="335.90" r="1.8"/><circle cx="384.81" cy="325.30" r="1.8"/><circle cx="391.47" cy="312.00" r="1.8"/><circle cx="398.14" cy="288.90" r="1.8"/><circle cx="404.81" cy="262.70" r="1.8"/><circle cx="411.48" cy="214.90" r="1.8"/><circle cx="418.14" cy="184.70" r="1.8"/><circle cx="424.81" cy="137.10" r="1.8"/><circle cx="431.48" cy="91.60" r="1.8"/><circle cx="438.14" cy="65.20" r="1.8"/><circle cx="444.81" cy="58.20" r="1.8"/><circle cx="451.48" cy="71.60" r="1.8"/><circle cx="458.15" cy="112.60" r="1.8"/><circle cx="464.81" cy="154.10" r="1.8"/><circle cx="471.48" cy="197.30" r="1.8"/><circle cx="478.15" cy="237.20" r="1.8"/><circle cx="484.81" cy="272.10" r="1.8"/><circle cx="491.48" cy="300.70" r="1.8"/><circle cx="498.15" cy="322.60" r="1.8"/><circle cx="504.82" cy="337.30" r="1.8"/><circle cx="511.48" cy="343.80" r="1.8"/><circle cx="518.15" cy="345.60" r="1.8"/><circle cx="524.82" cy="342.20" r="1.8"/><circle cx="531.48" cy="333.90" r="1.8"/><circle cx="538.15" cy="315.20" r="1.8"/><circle cx="544.82" cy="292.10" r="1.8"/><circle cx="551.49" cy="263.40" r="1.8"/><circle cx="558.15" cy="225.30" r="1.8"/><circle cx="564.82" cy="180.20" r="1.8"/><circle cx="571.49" cy="136.50" r="1.8"/><circle cx="578.15" cy="104.70" r="1.8"/><circle cx="584.82" cy="78.10" r="1.8"/><circle cx="591.49" cy="64.20" r="1.8"/><circle cx="598.16" cy="78.40" r="1.8"/><circle cx="604.82" cy="100.50" r="1.8"/><circle cx="611.49" cy="144.60" r="1.8"/><circle cx="618.16" cy="185.80" r="1.8"/><circle cx="624.82" cy="227.40" r="1.8"/><circle cx="631.49" cy="257.70" r="1.8"/><circle cx="638.16" cy="288.60" r="1.8"/><circle cx="644.83" cy="310.30" r="1.8"/><circle cx="651.49" cy="330.30" r="1.8"/><circle cx="658.16" cy="340.00" r="1.8"/><circle cx="664.83" cy="346.40" r="1.8"/></g>
<line x1="50.9" y1="240.9" x2="75.9" y2="240.9" stroke="#ff2020" stroke-width="1.8"/>
<line x1="50.9" y1="246.6" x2="75.9" y2="246.6" stroke="#2020ff" stroke-width="1.8"/>
<path d="M684.2 6.2H59.05V391.8H684.2" fill="none" stroke="#505050" stroke-width="1.9"/>
<line x1="684.3" y1="5.25" x2="684.3" y2="392.75" stroke="#000" stroke-width="1.5"/>
<path d="M71.45 391.80v-7.00M71.45 6.20v7.00M90.55 391.80v-4.00M90.55 6.20v4.00M109.65 391.80v-4.00M109.65 6.20v4.00M128.75 391.80v-4.00M128.75 6.20v4.00M147.85 391.80v-4.00M147.85 6.20v4.00M166.95 391.80v-7.00M166.95 6.20v7.00M186.05 391.80v-4.00M186.05 6.20v4.00M205.15 391.80v-4.00M205.15 6.20v4.00M224.25 391.80v-4.00M224.25 6.20v4.00M243.35 391.80v-4.00M243.35 6.20v4.00M262.45 391.80v-7.00M262.45 6.20v7.00M281.55 391.80v-4.00M281.55 6.20v4.00M300.65 391.80v-4.00M300.65 6.20v4.00M319.75 391.80v-4.00M319.75 6.20v4.00M338.85 391.80v-4.00M338.85 6.20v4.00M357.95 391.80v-7.00M357.95 6.20v7.00M377.05 391.80v-4.00M377.05 6.20v4.00M396.15 391.80v-4.00M396.15 6.20v4.00M415.25 391.80v-4.00M415.25 6.20v4.00M434.35 391.80v-4.00M434.35 6.20v4.00M453.45 391.80v-7.00M453.45 6.20v7.00M472.55 391.80v-4.00M472.55 6.20v4.00M491.65 391.80v-4.00M491.65 6.20v4.00M510.75 391.80v-4.00M510.75 6.20v4.00M529.85 391.80v-4.00M529.85 6.20v4.00M548.95 391.80v-7.00M548.95 6.20v7.00M568.05 391.80v-4.00M568.05 6.20v4.00M587.15 391.80v-4.00M587.15 6.20v4.00M606.25 391.80v-4.00M606.25 6.20v4.00M625.35 391.80v-4.00M625.35 6.20v4.00M644.45 391.80v-7.00M644.45 6.20v7.00M663.55 391.80v-4.00M663.55 6.20v4.00M682.65 391.80v-4.00M682.65 6.20v4.00M59.10 391.80h7.00M684.20 391.80h-7.00M59.10 378.03h4.00M684.20 378.03h-4.00M59.10 364.26h4.00M684.20 364.26h-4.00M59.10 350.49h4.00M684.20 350.49h-4.00M59.10 336.72h7.00M684.20 336.72h-7.00M59.10 322.95h4.00M684.20 322.95h-4.00M59.10 309.18h4.00M684.20 309.18h-4.00M59.10 295.41h4.00M684.20 295.41h-4.00M59.10 281.64h7.00M684.20 281.64h-7.00M59.10 267.87h4.00M684.20 267.87h-4.00M59.10 254.10h4.00M684.20 254.10h-4.00M59.10 240.33h4.00M684.20 240.33h-4.00M59.10 226.56h7.00M684.20 226.56h-7.00M59.10 212.79h4.00M684.20 212.79h-4.00M59.10 199.02h4.00M684.20 199.02h-4.00M59.10 185.25h4.00M684.20 185.25h-4.00M59.10 171.48h7.00M684.20 171.48h-7.00M59.10 157.71h4.00M684.20 157.71h-4.00M59.10 143.94h4.00M684.20 143.94h-4.00M59.10 130.17h4.00M684.20 130.17h-4.00M59.10 116.40h7.00M684.20 116.40h-7.00M59.10 102.63h4.00M684.20 102.63h-4.00M59.10 88.86h4.00M684.20 88.86h-4.00M59.10 75.09h4.00M684.20 75.09h-4.00M59.10 61.32h7.00M684.20 61.32h-7.00M59.10 47.55h4.00M684.20 47.55h-4.00M59.10 33.78h4.00M684.20 33.78h-4.00M59.10 20.01h4.00M684.20 20.01h-4.00M59.10 6.24h7.00M684.20 6.24h-7.00" stroke="#000" stroke-width="1.2" fill="none"/>
<text transform="translate(52.7 396.50) scale(1 1.07)" font-size="15" text-anchor="end">0.0</text>
<text transform="translate(52.7 341.42) scale(1 1.07)" font-size="15" text-anchor="end">0.2</text>
<text transform="translate(52.7 286.34) scale(1 1.07)" font-size="15" text-anchor="end">0.4</text>
<text transform="translate(52.7 231.26) scale(1 1.07)" font-size="15" text-anchor="end">0.6</text>
<text transform="translate(52.7 176.18) scale(1 1.07)" font-size="15" text-anchor="end">0.8</text>
<text transform="translate(52.7 121.10) scale(1 1.07)" font-size="15" text-anchor="end">1.0</text>
<text transform="translate(52.7 66.02) scale(1 1.07)" font-size="15" text-anchor="end">1.2</text>
<text transform="translate(52.7 10.94) scale(1 1.07)" font-size="15" text-anchor="end">1.4</text>
<text transform="translate(71.45 409) scale(1 1.07)" font-size="15" text-anchor="middle">0</text>
<text transform="translate(166.95 409) scale(1 1.07)" font-size="15" text-anchor="middle">1</text>
<text transform="translate(262.45 409) scale(1 1.07)" font-size="15" text-anchor="middle">2</text>
<text transform="translate(357.95 409) scale(1 1.07)" font-size="15" text-anchor="middle">3</text>
<text transform="translate(453.45 409) scale(1 1.07)" font-size="15" text-anchor="middle">4</text>
<text transform="translate(548.95 409) scale(1 1.07)" font-size="15" text-anchor="middle">5</text>
<text transform="translate(644.45 409) scale(1 1.07)" font-size="15" text-anchor="middle">6</text>
<text x="346.9" y="432.2" font-size="17.5" class="s">ϕ</text>
<text x="360.1" y="429.9" font-size="14.5">(Rad)</text>
<g transform="rotate(-90)"><text transform="translate(-207.9 16.05) scale(0.92 1.1)" font-size="14.5">V</text><text x="-197.9" y="19.9" font-size="10.2">H</text><text transform="translate(-197.3 7.9) scale(1.12 1)" font-size="11.2" class="s">ϕ</text></g>
</svg></body></html>
